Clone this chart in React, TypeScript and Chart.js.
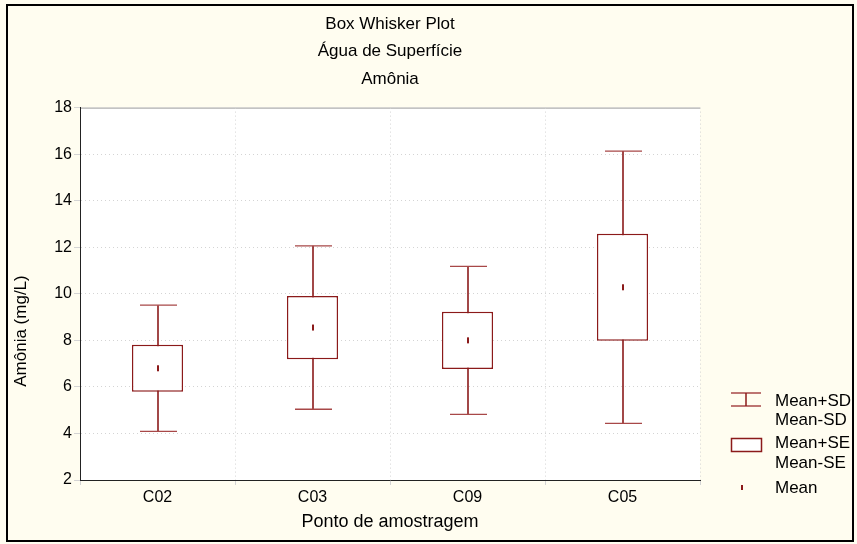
import React, { useEffect, useRef } from "react";
import { Chart, registerables } from "chart.js";

Chart.register(...registerables);

const categories = ["C02", "C03", "C09", "C05"];
const means = [6.8, 8.55, 8.0, 10.28];
const sds = [2.71, 3.51, 3.18, 5.85];
const ses = [1.01, 1.36, 1.23, 2.3];
const yMin = 2;
const yMax = 18;
const yStep = 2;
const titleLines = ["Box Whisker Plot", "Água de Superfície", "Amônia"];
const xTitle = "Ponto de amostragem";
const yTitle = "Amônia (mg/L)";
const legendLabels = ["Mean+SD", "Mean-SD", "Mean+SE", "Mean-SE", "Mean"];

const RED = "#8b1a1a";
const CREAM = "#fffdf0";
const FONT = "'Liberation Sans', Arial, sans-serif";

const decorPlugin = {
  id: "decor",
  beforeDraw(chart: any) {
    const { ctx, chartArea } = chart;
    ctx.save();
    ctx.fillStyle = CREAM;
    ctx.fillRect(0, 0, chart.width, chart.height);
    ctx.fillStyle = "#ffffff";
    ctx.fillRect(chartArea.left, chartArea.top, chartArea.right - chartArea.left, chartArea.bottom - chartArea.top);
    ctx.strokeStyle = "#9a9a9a";
    ctx.lineWidth = 1;
    ctx.beginPath();
    ctx.moveTo(chartArea.left, chartArea.top + 0.5);
    ctx.lineTo(chartArea.right, chartArea.top + 0.5);
    ctx.stroke();
    ctx.restore();
  },
  beforeDatasetsDraw(chart: any) {
    const { ctx } = chart;
    const xs = chart.scales.x;
    const ys = chart.scales.y;
    ctx.save();
    means.forEach((m, i) => {
      const x = Math.round(xs.getPixelForValue(i));
      const yt = ys.getPixelForValue(m + sds[i]);
      const yb = ys.getPixelForValue(m - sds[i]);
      ctx.lineWidth = 1.6;
      ctx.strokeStyle = RED;
      ctx.beginPath();
      ctx.moveTo(x, yt);
      ctx.lineTo(x, yb);
      ctx.stroke();
      ctx.lineWidth = 1.3;
      ctx.strokeStyle = "#a84848";
      ctx.beginPath();
      ctx.moveTo(x - 18, yt);
      ctx.lineTo(x + 19, yt);
      ctx.moveTo(x - 18, yb);
      ctx.lineTo(x + 19, yb);
      ctx.stroke();
    });
    ctx.restore();
  },
  afterDatasetsDraw(chart: any) {
    const { ctx } = chart;
    const xs = chart.scales.x;
    const ys = chart.scales.y;
    ctx.save();
    ctx.fillStyle = RED;
    means.forEach((m, i) => {
      const x = Math.round(xs.getPixelForValue(i));
      const y = ys.getPixelForValue(m);
      ctx.fillRect(x - 1, y - 3, 2, 6);
    });
    ctx.restore();
  },
  afterDraw(chart: any) {
    const { ctx } = chart;
    ctx.save();
    ctx.fillStyle = "#000";
    ctx.font = `17px ${FONT}`;
    ctx.textAlign = "center";
    ctx.textBaseline = "middle";
    ctx.translate(21, 331);
    ctx.rotate(-Math.PI / 2);
    ctx.fillText(yTitle, 0, 0);
    ctx.restore();

    ctx.save();
    const lx = 731;
    const lw = 30;
    ctx.strokeStyle = "#a84848";
    ctx.lineWidth = 1.3;
    ctx.beginPath();
    ctx.moveTo(lx, 393);
    ctx.lineTo(lx + lw, 393);
    ctx.moveTo(lx, 406);
    ctx.lineTo(lx + lw, 406);
    ctx.stroke();
    ctx.strokeStyle = RED;
    ctx.lineWidth = 1.5;
    ctx.beginPath();
    ctx.moveTo(lx + 15, 393);
    ctx.lineTo(lx + 15, 406);
    ctx.stroke();
    ctx.fillStyle = "#ffffff";
    ctx.fillRect(lx, 438, lw, 13);
    ctx.strokeStyle = RED;
    ctx.lineWidth = 1.5;
    ctx.strokeRect(lx + 0.5, 438.5, lw, 13);
    ctx.fillStyle = RED;
    ctx.fillRect(lx + 10, 485, 2, 5);

    ctx.fillStyle = "#000";
    ctx.font = `17px ${FONT}`;
    ctx.textAlign = "left";
    ctx.textBaseline = "middle";
    const ly = [401, 420, 443, 463, 488];
    legendLabels.forEach((t, i) => ctx.fillText(t, 775, ly[i]));

    ctx.strokeStyle = "#000";
    ctx.lineWidth = 2;
    ctx.strokeRect(7, 5, 846, 536);
    ctx.restore();
  },
};

export default function App() {
  const ref = useRef<HTMLCanvasElement | null>(null);
  useEffect(() => {
    document.body.style.margin = "0";
    if (!ref.current) return;
    const chart = new Chart(ref.current, {
      type: "bar",
      data: {
        labels: categories,
        datasets: [
          {
            label: "Mean±SE",
            data: means.map((m, i) => [m - ses[i], m + ses[i]]) as any,
            backgroundColor: "#ffffff",
            borderColor: RED,
            borderWidth: 1.5,
            borderSkipped: false,
            barPercentage: 0.33,
            categoryPercentage: 1,
          },
        ],
      },
      options: {
        responsive: false,
        animation: false,
        layout: { padding: { left: 6, right: 157, top: 0, bottom: 0 } },
        plugins: {
          legend: { display: false },
          tooltip: { enabled: false },
          title: {
            display: true,
            text: titleLines,
            fullSize: false,
            color: "#000",
            font: { family: FONT, size: 17, weight: "normal", lineHeight: 1.6 },
            padding: { top: 11, bottom: 15 },
          },
        },
        scales: {
          x: {
            type: "category",
            offset: true,
            grid: { display: true, offset: true, color: "#d4d4d4", tickLength: 5 },
            border: { display: true, color: "#222", width: 1, dash: [1, 3] },
            ticks: { color: "#000", font: { family: FONT, size: 16 }, padding: 3 },
            title: {
              display: true,
              text: xTitle,
              color: "#000",
              font: { family: FONT, size: 18 },
              padding: { top: 0, bottom: 11 },
            },
            afterFit: (s: any) => {
              s.height = 64;
            },
          },
          y: {
            min: yMin,
            max: yMax,
            grid: { color: "#d4d4d4", tickLength: 6 },
            border: { display: true, color: "#222", width: 1, dash: [1, 3] },
            ticks: {
              stepSize: yStep,
              color: "#000",
              font: { family: FONT, size: 16 },
              padding: 2,
            },
            afterFit: (s: any) => {
              s.width = 74;
            },
          },
        },
      },
      plugins: [decorPlugin],
    });
    return () => chart.destroy();
  }, []);
  return (
    <div style={{ width: 857, height: 544 }}>
      <canvas ref={ref} width={857} height={544} style={{ display: "block" }} />
    </div>
  );
}
